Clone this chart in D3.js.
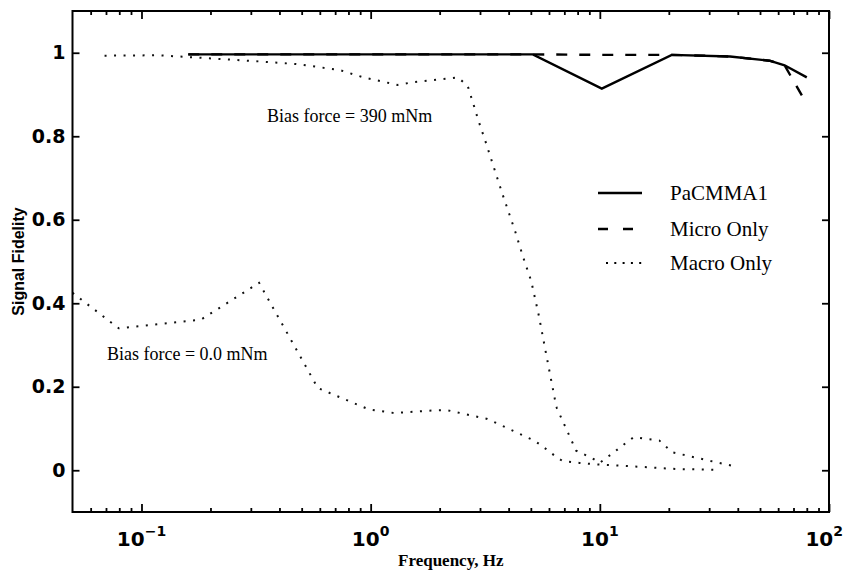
<!DOCTYPE html>
<html>
<head>
<meta charset="utf-8">
<script src="https://cdn.jsdelivr.net/npm/d3@7"></script>
<style>
  body { margin: 0; background: #fff; }
  svg { display: block; }
</style>
</head>
<body>
<svg id="chart" width="845" height="572"></svg>
<script>
// ---- data ----
const xDomain = [0.05, 100];
const yDomain = [-0.1, 1.1];

const yTicks = [0, 0.2, 0.4, 0.6, 0.8, 1];
const yTickLabels = ["0", "0.2", "0.4", "0.6", "0.8", "1"];

const xMajorTicks = [0.1, 1, 10, 100];
const xMajorExponents = ["\u22121", "0", "1", "2"];
const xMinorTicks = [0.06, 0.07, 0.08, 0.09,
                     0.2, 0.3, 0.4, 0.5, 0.6, 0.7, 0.8, 0.9,
                     2, 3, 4, 5, 6, 7, 8, 9,
                     20, 30, 40, 50, 60, 70, 80, 90];

// PaCMMA1 (combined macro/micro actuator)
const pacmmaFreq = [0.16, 5.1, 10.2, 20.6, 37, 55, 64, 80];
const pacmmaVal  = [0.996, 0.996, 0.914, 0.995, 0.991, 0.981, 0.970, 0.941];

// Micro actuator only
const microFreq = [0.16, 5.1, 10.2, 20.6, 37, 55, 64, 77];
const microVal  = [0.996, 0.996, 0.995, 0.995, 0.991, 0.981, 0.970, 0.893];

// Macro actuator only, bias force 390 mNm
const macro390Freq = [0.069, 0.118, 0.255, 0.331, 0.472, 0.729, 0.929, 1.31, 1.55, 2.40,
                      2.65, 2.72, 2.86, 2.93, 3.19, 3.73, 4.29, 4.63, 5.02, 5.41,
                      5.86, 6.36, 6.49, 7.88, 9.25, 10.0, 11.4, 13.1, 14.05, 18.2,
                      20.7, 24.5, 31.7, 37.6];
const macro390Val  = [0.993, 0.994, 0.983, 0.979, 0.973, 0.959, 0.941, 0.923, 0.930, 0.941,
                      0.921, 0.901, 0.863, 0.843, 0.783, 0.667, 0.569, 0.510, 0.453, 0.372,
                      0.272, 0.171, 0.149, 0.047, 0.029, 0.018, 0.041, 0.067, 0.079, 0.071,
                      0.043, 0.034, 0.020, 0.011];

// Macro actuator only, bias force 0.0 mNm
const macro0Freq = [0.05, 0.0796, 0.182, 0.326, 0.403, 0.42, 0.588, 0.98, 1.27, 1.95,
                    2.15, 3.23, 3.77, 5.17, 5.57, 6.38, 6.88, 8.15, 9.69, 11.5,
                    21.5, 33.2];
const macro0Val  = [0.425, 0.340, 0.361, 0.449, 0.358, 0.341, 0.197, 0.146, 0.137, 0.144,
                    0.144, 0.123, 0.106, 0.071, 0.059, 0.034, 0.022, 0.0175, 0.014, 0.012,
                    0.003, 0.001];

const legendLabels = ["PaCMMA1", "Micro Only", "Macro Only"];
const annotations = [
  { text: "Bias force = 390 mNm", f: 0.353, v: 0.835 },
  { text: "Bias force = 0.0 mNm", f: 0.0707, v: 0.264 }
];

// ---- layout ----
const W = 845;
const svg = d3.select("#chart");
const plot = { left: 72.5, right: 829, top: 11, bottom: 512 };

const x = d3.scaleLog().domain(xDomain).range([plot.left, plot.right]);
const y = d3.scaleLinear().domain(yDomain).range([plot.bottom, plot.top]);

const zip = (fs, vs) => fs.map((f, i) => [f, vs[i]]);
const line = d3.line().x(d => x(d[0])).y(d => y(d[1]));

svg.append("clipPath").attr("id", "plotclip")
  .append("rect")
  .attr("x", plot.left).attr("y", plot.top)
  .attr("width", plot.right - plot.left).attr("height", plot.bottom - plot.top);

const g = svg.append("g").attr("clip-path", "url(#plotclip)");

// series lines
g.append("path").datum(zip(macro390Freq, macro390Val))
  .attr("d", line).attr("fill", "none").attr("stroke", "#111")
  .attr("stroke-width", 2).attr("stroke-dasharray", "2,7.5");
g.append("path").datum(zip(macro0Freq, macro0Val))
  .attr("d", line).attr("fill", "none").attr("stroke", "#111")
  .attr("stroke-width", 2).attr("stroke-dasharray", "2,7.5");
g.append("path").datum(zip(microFreq, microVal))
  .attr("d", line).attr("fill", "none").attr("stroke", "#000")
  .attr("stroke-width", 2.4).attr("stroke-dasharray", "11,12");
g.append("path").datum(zip(pacmmaFreq, pacmmaVal))
  .attr("d", line).attr("fill", "none").attr("stroke", "#000")
  .attr("stroke-width", 2.4).attr("stroke-linejoin", "miter");

// ---- axes (inward ticks on all four sides) ----
function styleAxis(sel) {
  sel.select(".domain").remove();
  sel.selectAll(".tick line").attr("stroke", "#000").attr("stroke-width", 1.8);
}

svg.append("g").attr("transform", `translate(0,${plot.bottom})`)
  .call(d3.axisBottom(x).tickValues(xMajorTicks).tickSize(-8).tickFormat(""))
  .call(styleAxis);
svg.append("g").attr("transform", `translate(0,${plot.bottom})`)
  .call(d3.axisBottom(x).tickValues(xMinorTicks).tickSize(-4).tickFormat(""))
  .call(styleAxis);
svg.append("g").attr("transform", `translate(0,${plot.top})`)
  .call(d3.axisTop(x).tickValues(xMajorTicks).tickSize(-8).tickFormat(""))
  .call(styleAxis);
svg.append("g").attr("transform", `translate(0,${plot.top})`)
  .call(d3.axisTop(x).tickValues(xMinorTicks).tickSize(-4).tickFormat(""))
  .call(styleAxis);

const leftAxis = svg.append("g").attr("transform", `translate(${plot.left},0)`)
  .call(d3.axisLeft(y).tickValues(yTicks).tickSize(-7).tickPadding(7)
        .tickFormat((d, i) => yTickLabels[i]))
  .call(styleAxis);
leftAxis.selectAll(".tick text")
  .attr("font-family", "'DejaVu Sans', sans-serif")
  .attr("font-weight", "bold").attr("font-size", 19).attr("fill", "#000");

svg.append("g").attr("transform", `translate(${plot.right},0)`)
  .call(d3.axisRight(y).tickValues(yTicks).tickSize(-7).tickFormat(""))
  .call(styleAxis);

// frame
svg.append("rect")
  .attr("x", plot.left).attr("y", plot.top)
  .attr("width", plot.right - plot.left).attr("height", plot.bottom - plot.top)
  .attr("fill", "none").attr("stroke", "#000").attr("stroke-width", 2);

// x tick labels as powers of ten (kept inside the canvas at the right edge)
const xLab = svg.append("g")
  .attr("font-family", "'DejaVu Sans', sans-serif")
  .attr("font-weight", "bold").attr("fill", "#000");
xMajorTicks.forEach((t, i) => {
  const txt = xLab.append("text")
    .attr("x", x(t)).attr("y", 546)
    .attr("text-anchor", "middle").attr("font-size", 20);
  txt.append("tspan").text("10");
  txt.append("tspan").attr("dy", -10).attr("font-size", 14).text(xMajorExponents[i]);
  const bb = txt.node().getBBox();
  const overflow = bb.x + bb.width - (W - 2);
  if (overflow > 0) txt.attr("x", x(t) - overflow);
});

// axis titles
svg.append("text")
  .attr("x", (plot.left + plot.right) / 2).attr("y", 566)
  .attr("text-anchor", "middle")
  .attr("font-family", "'Liberation Serif', 'Times New Roman', serif")
  .attr("font-weight", "bold").attr("font-size", 17)
  .text("Frequency, Hz");

svg.append("text")
  .attr("transform", `translate(24,${(plot.top + plot.bottom) / 2}) rotate(-90)`)
  .attr("text-anchor", "middle")
  .attr("font-family", "'Liberation Sans', Arial, sans-serif")
  .attr("font-weight", "bold").attr("font-size", 16)
  .text("Signal Fidelity");

// annotations
svg.append("g").selectAll("text").data(annotations).join("text")
  .attr("x", d => x(d.f)).attr("y", d => y(d.v))
  .attr("font-family", "'Liberation Serif', 'Times New Roman', serif")
  .attr("font-size", 18).attr("fill", "#000")
  .text(d => d.text);

// legend
const legend = svg.append("g").attr("transform", "translate(598,0)");
const legendRows = [
  { y: 193, dash: null, width: 2.4 },
  { y: 229, dash: "10,15", width: 2.4 },
  { y: 263, dash: "2,6.3", width: 2 }
];
legendRows.forEach((r, i) => {
  const ln = legend.append("line")
    .attr("x1", i === 2 ? 8 : 0).attr("x2", 44)
    .attr("y1", r.y).attr("y2", r.y)
    .attr("stroke", "#000").attr("stroke-width", r.width);
  if (r.dash) ln.attr("stroke-dasharray", r.dash);
  legend.append("text")
    .attr("x", 72).attr("y", r.y + 7)
    .attr("font-family", "'Liberation Serif', 'Times New Roman', serif")
    .attr("font-size", 21).attr("fill", "#000")
    .text(legendLabels[i]);
});
</script>
</body>
</html>
